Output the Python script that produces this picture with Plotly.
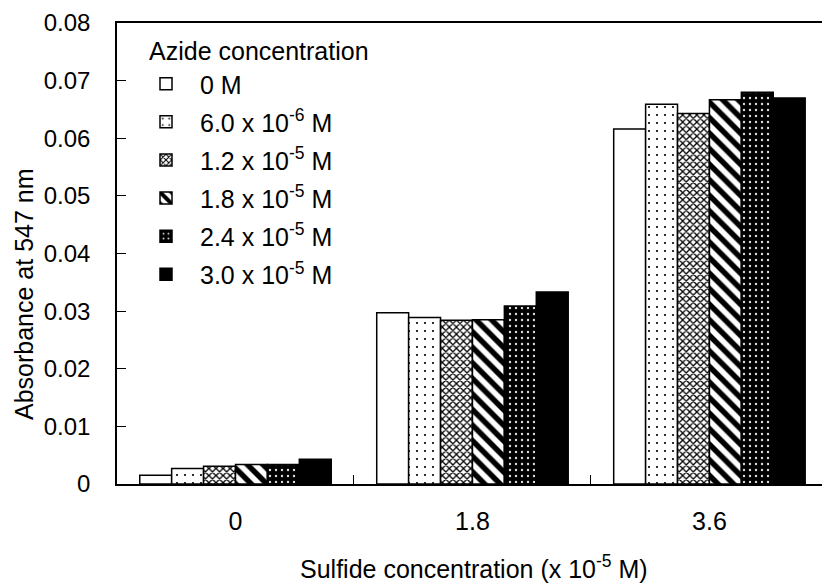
import plotly.graph_objects as go

# Sulfide concentration groups (x 10^-5 M)
sulfide = ["0", "1.8", "3.6"]

# Azide concentration series labels
azide_labels = [
    "0 M",
    "6.0 x 10<sup>-6</sup> M",
    "1.2 x 10<sup>-5</sup> M",
    "1.8 x 10<sup>-5</sup> M",
    "2.4 x 10<sup>-5</sup> M",
    "3.0 x 10<sup>-5</sup> M",
]

# Absorbance at 547 nm for each azide concentration
abs_azide_0 = [0.0015, 0.0297, 0.0616]
abs_azide_6e6 = [0.0027, 0.0289, 0.0659]
abs_azide_12e5 = [0.0031, 0.0284, 0.0643]
abs_azide_18e5 = [0.0034, 0.0285, 0.0667]
abs_azide_24e5 = [0.0034, 0.0309, 0.0680]
abs_azide_30e5 = [0.0043, 0.0333, 0.0670]

series = [abs_azide_0, abs_azide_6e6, abs_azide_12e5,
          abs_azide_18e5, abs_azide_24e5, abs_azide_30e5]

# Monochrome fill patterns, one per series
patterns = [
    dict(shape="", bgcolor="white", fgcolor="black"),
    dict(shape=".", bgcolor="white", fgcolor="black", size=8, solidity=0.06),
    dict(shape="x", bgcolor="white", fgcolor="black", size=5, solidity=0.45),
    dict(shape="\\", bgcolor="white", fgcolor="black", size=11, solidity=0.5),
    dict(shape=".", bgcolor="black", fgcolor="#dddddd", size=6, solidity=0.12),
    dict(shape="", bgcolor="black", fgcolor="black"),
]
fills = ["white", "white", "white", "white", "black", "black"]

FONT = "Liberation Sans, Arial, sans-serif"

# Plot-area geometry in pixels (used to place annotations in paper units)
L, R, T, B = 117, 822, 23, 484


def px_x(x):
    return (x - L) / (R - L)


def px_y(y):
    return (B - y) / (B - T)


fig = go.Figure()
for i, (name, vals) in enumerate(zip(azide_labels, series)):
    fig.add_trace(go.Bar(
        x=sulfide,
        y=vals,
        name=name,
        legendgroup=f"g{i}",
        marker=dict(color=fills[i], pattern=dict(fillmode="replace", **patterns[i]),
                    line=dict(color="black", width=1.5)),
    ))

fig.update_layout(
    width=822,
    height=585,
    margin=dict(l=L, r=822 - R, t=T, b=585 - B),
    paper_bgcolor="white",
    plot_bgcolor="white",
    font=dict(family=FONT, size=25, color="black"),
    barmode="group",
    bargap=0.192,
    bargroupgap=0,
    showlegend=True,
    legend=dict(
        x=px_x(132), y=px_y(61), xanchor="left", yanchor="top",
        bgcolor="rgba(0,0,0,0)", borderwidth=0,
        font=dict(family=FONT, size=25, color="black"),
        itemwidth=58, tracegroupgap=2.6,
    ),
    xaxis=dict(
        type="category",
        range=[-0.5, 2.475],
        showline=True, linecolor="black", linewidth=1.5, mirror=True,
        ticks="inside", ticklen=9, tickcolor="black", tickwidth=1,
        tickson="boundaries",
        showgrid=False, zeroline=False,
        ticklabelstandoff=14,
        tickfont=dict(family=FONT, size=25),
    ),
    yaxis=dict(
        range=[0, 0.08], dtick=0.01, tick0=0,
        showline=True, linecolor="black", linewidth=1.5, mirror=False,
        ticks="inside", ticklen=9, tickcolor="black", tickwidth=1,
        showgrid=False, zeroline=False,
        ticklabelstandoff=20,
        tickfont=dict(family=FONT, size=24),
    ),
    annotations=[
        dict(text="Azide concentration", xref="paper", yref="paper",
             x=px_x(147), y=px_y(51), xanchor="left", yanchor="middle",
             showarrow=False, font=dict(family=FONT, size=25)),
        dict(text="Sulfide concentration (x 10<sup>-5</sup> M)", xref="paper", yref="paper",
             x=px_x(474), y=px_y(567), xanchor="center", yanchor="middle",
             showarrow=False, font=dict(family=FONT, size=25)),
        dict(text="Absorbance at 547 nm", xref="paper", yref="paper",
             x=px_x(24), y=px_y(294), xanchor="center", yanchor="middle",
             textangle=-90, showarrow=False, font=dict(family=FONT, size=25)),
    ],
)

fig.write_html("out.html")
